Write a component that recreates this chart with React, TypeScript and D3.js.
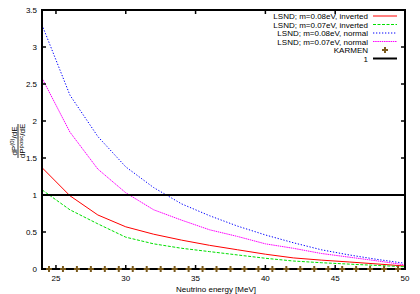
import React from "react";
import * as d3 from "d3";

const energies = [24, 26, 28, 30, 32, 34, 36, 38, 40, 42, 44, 46, 48, 50];
const lsnd008inv = [1.37, 0.99, 0.73, 0.57, 0.47, 0.39, 0.32, 0.26, 0.2, 0.15, 0.12, 0.095, 0.068, 0.04];
const lsnd007inv = [1.07, 0.8, 0.61, 0.43, 0.34, 0.28, 0.235, 0.19, 0.145, 0.108, 0.085, 0.066, 0.048, 0.03];
const lsnd008norm = [3.3, 2.35, 1.79, 1.38, 1.1, 0.88, 0.72, 0.58, 0.46, 0.355, 0.26, 0.19, 0.13, 0.077];
const lsnd007norm = [2.58, 1.85, 1.35, 1.03, 0.8, 0.66, 0.53, 0.44, 0.34, 0.28, 0.21, 0.16, 0.11, 0.055];
const karmenE = [24.5, 25.5, 26.5, 27.5, 28.5, 29.5, 30.5, 31.5, 32.5, 33.5, 34.5, 35.5, 36.5, 37.5, 38.5, 39.5, 40.5, 41.5, 42.5, 43.5, 44.5, 45.5, 46.5, 47.5, 48.5, 49.5];
const karmenV = [0, 0, 0, 0, 0, 0, 0, 0, 0, 0, 0, 0, 0, 0, 0, 0, 0, 0, 0, 0, 0, 0, 0, 0, 0, 0];
const xTicks = [25, 30, 35, 40, 45, 50];
const yTicks = [0, 0.5, 1, 1.5, 2, 2.5, 3, 3.5];
const seriesNames = [
  "LSND; m=0.08eV, inverted",
  "LSND; m=0.07eV, inverted",
  "LSND; m=0.08eV, normal",
  "LSND; m=0.07eV, normal",
];

const W = 420, H = 294;
const L = 42, R = 405, T = 10, B = 269;
const font = "'Liberation Sans', Arial, sans-serif";

export default function App() {
  const x = d3.scaleLinear().domain([24, 50]).range([L, R]);
  const y = d3.scaleLinear().domain([0, 3.5]).range([B, T]);
  const line = d3
    .line<number>()
    .x((_, i) => x(energies[i]))
    .y((d) => y(d));

  const series = [
    { data: lsnd008inv, color: "#ff0000", dash: undefined as string | undefined },
    { data: lsnd007inv, color: "#00e000", dash: "3,1.5" },
    { data: lsnd008norm, color: "#0000ff", dash: "1.3,1.7" },
    { data: lsnd007norm, color: "#ff00ff", dash: "1.5,0.7" },
  ];

  const legX2 = 397, legX1 = 373, legTextX = 368;
  const legY = [16, 24.5, 33, 41.5, 50, 58.5];
  const karmenColor = "#7a5a1c";

  const plus = (cx: number, cy: number, k: string) => (
    <g key={k} stroke={karmenColor} strokeWidth={2}>
      <line x1={cx - 3} x2={cx + 3} y1={cy} y2={cy} />
      <line x1={cx} x2={cx} y1={cy - 3} y2={cy + 3} />
    </g>
  );

  return (
    <div style={{ position: "fixed", left: 0, top: 0 }}>
      <svg width={W} height={H} style={{ display: "block", background: "#fff" }}>
        <defs>
          <clipPath id="plotclip">
            <rect x={L} y={T} width={R - L} height={B - T} />
          </clipPath>
        </defs>
        <g clipPath="url(#plotclip)" fill="none">
          {series.map((s, i) => (
            <path key={i} d={line(s.data) || ""} stroke={s.color} strokeWidth={1} strokeDasharray={s.dash} />
          ))}
          <line x1={x(24)} x2={x(50)} y1={y(1)} y2={y(1)} stroke="#000" strokeWidth={2} />
        </g>
        <rect x={L} y={T} width={R - L} height={B - T} fill="none" stroke="#000" strokeWidth={2} />
        <g stroke="#000" strokeWidth={1.5}>
          {xTicks.map((t) => (
            <g key={"xt" + t}>
              <line x1={x(t)} x2={x(t)} y1={B} y2={B - 4} />
              <line x1={x(t)} x2={x(t)} y1={T} y2={T + 4} />
            </g>
          ))}
          {yTicks.map((t) => (
            <g key={"yt" + t}>
              <line x1={L} x2={L + 4} y1={y(t)} y2={y(t)} />
              <line x1={R} x2={R - 4} y1={y(t)} y2={y(t)} />
            </g>
          ))}
        </g>
        {karmenE.map((e, i) => plus(x(e), y(karmenV[i]), "k" + i))}
        <g fontFamily={font} fontSize={8} fill="#000">
          {xTicks.map((t) => (
            <text key={"xl" + t} x={x(t)} y={281} textAnchor="middle">
              {t}
            </text>
          ))}
          {yTicks.map((t) => (
            <text key={"yl" + t} x={37} y={y(t) + 3} textAnchor="end">
              {t}
            </text>
          ))}
          <text x={216} y={292} textAnchor="middle">
            Neutrino energy [MeV]
          </text>
        </g>
        <g transform="translate(0,141) rotate(-90)" fontFamily={font} fontSize={8} fill="#000">
          <text x={0} y={16.5} textAnchor="middle">
            dP<tspan fontSize={6} dy={-2.5}>(0)</tspan>
            <tspan dy={2.5}>/dE</tspan>
          </text>
          <line x1={-17} x2={17} y1={18} y2={18} stroke="#000" strokeWidth={0.8} />
          <text x={0} y={25} textAnchor="middle">
            dP<tspan fontSize={6} dy={-2.5}>posc</tspan>
            <tspan dy={2.5}>/dE</tspan>
          </text>
        </g>
        <g fontFamily={font} fontSize={8} fill="#000">
          {seriesNames.map((n, i) => (
            <g key={"lg" + i}>
              <text x={legTextX} y={legY[i] + 3} textAnchor="end">
                {n}
              </text>
              <line x1={legX1} x2={legX2} y1={legY[i]} y2={legY[i]} stroke={series[i].color} strokeWidth={1} strokeDasharray={series[i].dash} />
            </g>
          ))}
          <text x={legTextX} y={legY[4] + 3} textAnchor="end">KARMEN</text>
          {plus((legX1 + legX2) / 2, legY[4], "legk")}
          <text x={legTextX} y={legY[5] + 3} textAnchor="end">1</text>
          <line x1={legX1} x2={legX2} y1={legY[5]} y2={legY[5]} stroke="#000" strokeWidth={2} />
        </g>
      </svg>
    </div>
  );
}
